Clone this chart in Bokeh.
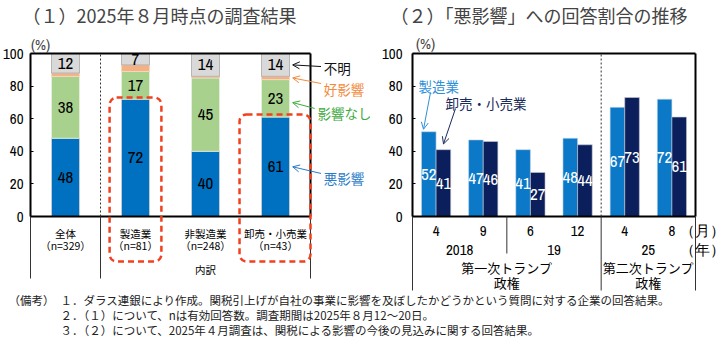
from bokeh.plotting import figure
from bokeh.models import (Range1d, FixedTicker, LinearAxis, Label, Arrow, OpenHead,
                          BoxAnnotation, ColumnDataSource)
from bokeh.layouts import column, row
from bokeh.embed import file_html
from bokeh.resources import INLINE
from bokeh.core.properties import value
from bokeh.transform import dodge

# ---------------- data ----------------
categories = ["全体", "製造業", "非製造業", "卸売・小売業"]
n_counts = [329, 81, 248, 43]
negative = [48, 72, 40, 61]     # 悪影響
no_effect = [38, 17, 45, 23]    # 影響なし
positive = [2, 4, 1, 2]         # 好影響
unknown = [12, 7, 14, 14]       # 不明

months = ["4", "9", "6", "12", "4", "8"]
years = ["2018", "19", "25"]
admins = ["第一次トランプ\n政権", "第二次トランプ\n政権"]
mfg = [52, 47, 41, 48, 67, 72]        # 製造業
wholesale = [41, 46, 27, 44, 73, 61]  # 卸売・小売業

# ---------------- styles ----------------
JP = "Noto Sans CJK JP"
NUM = "Archivo Narrow"
C_NEG = "#0070C0"
C_NONE = "#A9D18E"
C_POS = "#F4B183"
C_UNK = "#D9D9D9"
C_MFG = "#0B78C8"
C_WS = "#0A1F5C"
PXY = 1.63      # pixels per % unit
TOP_PX = 53     # frame top (y=100) in pixels
ZERO_PX = 216   # y=0 in pixels
H = 291
YMAX = 100 + TOP_PX / PXY
YMIN = -(H - ZERO_PX) / PXY


def base_fig(width, xmin, xmax, standoff):
    p = figure(width=width, height=H, x_range=Range1d(xmin, xmax), y_range=Range1d(YMIN, YMAX),
               output_backend="svg", toolbar_location=None, min_border=0,
               x_axis_location=None, y_axis_location=None)
    p.grid.visible = False
    p.outline_line_color = None
    p.background_fill_color = "white"
    yax = LinearAxis(ticker=FixedTicker(ticks=[0, 20, 40, 60, 80, 100]), fixed_location=0)
    yax.axis_line_color = None
    yax.major_tick_in = 3
    yax.major_tick_out = 0
    yax.major_tick_line_color = "black"
    yax.minor_tick_line_color = None
    yax.major_label_text_font = NUM
    yax.major_label_text_font_size = "15px"
    yax.major_label_text_color = "black"
    yax.major_label_standoff = standoff
    p.add_layout(yax, "left")
    return p


def x_axis(p, ticks, overrides, standoff, font, size, lh=1.0):
    ax = LinearAxis(ticker=FixedTicker(ticks=ticks), fixed_location=0)
    ax.axis_line_color = None
    ax.major_tick_line_color = None
    ax.minor_tick_line_color = None
    ax.major_label_overrides = overrides
    ax.major_label_standoff = standoff
    ax.major_label_text_font = font
    ax.major_label_text_font_size = size
    ax.major_label_text_color = "black"
    ax.major_label_text_line_height = lh
    p.add_layout(ax, "below")
    return ax


# ================= left panel =================
ncat = len(categories)
PX1 = 70.0
p1 = base_fig(370, -30 / PX1, 340 / PX1, 7)
ybot1 = -(278 - ZERO_PX) / PXY

xs = [i + 0.5 for i in range(ncat)]
src1 = ColumnDataSource(dict(x=xs, neg=negative, none=no_effect, pos=positive, unk=unknown))
p1.vbar_stack(["neg", "none", "pos", "unk"], x="x", width=0.4, source=src1,
              fill_color=[C_NEG, C_NONE, C_POS, C_UNK],
              line_color=["#D0D0D0", "#E8F0E0", "#F8D8C0", "#A8A8A8"], line_width=0.8)

lab_x, lab_y, lab_t = [], [], []
for i in range(ncat):
    lab_x += [xs[i]] * 3
    lab_y += [negative[i] / 2,
              negative[i] + no_effect[i] / 2,
              100 - unknown[i] / 2]
    lab_t += [str(negative[i]), str(no_effect[i]), str(unknown[i])]
p1.text(x=lab_x, y=lab_y, text=lab_t, text_align="center", text_baseline="middle",
        text_font=value(NUM), text_font_size="17px", text_color="black")

p1.segment(x0=[0, 0, ncat, 0], y0=[0, 100, 0, 0], x1=[0, ncat, ncat, ncat], y1=[100, 100, 100, 0],
           line_color="black", line_width=2)
p1.segment(x0=[0, 1, ncat], y0=[ybot1] * 3, x1=[0, 1, ncat], y1=[0, 0, 0],
           line_color="#333333", line_width=1)
p1.segment(x0=[1], y0=[0], x1=[1], y1=[100], line_color="#333333", line_width=1, line_dash="2 2")

x_axis(p1, xs, {xs[i]: f"{categories[i]}\n（n={n_counts[i]}）" for i in range(ncat)},
       3, JP, "10.5px", 0.84)
x_axis(p1, [2.5], {2.5: "内訳"}, 39, JP, "10.5px")

for l, r, t in [(1.13, 1.87, negative[1] + 1), (2.986, 4.0, negative[3] + 1.6)]:
    p1.add_layout(BoxAnnotation(left=l, right=r, top=t, bottom=-(261 - ZERO_PX) / PXY,
                                fill_alpha=0, line_color="#F0401E", line_alpha=1, line_width=2.5,
                                line_dash="6 4", border_radius=7))

ann = [("不明", "#111111", 4.19, 90.8, 92.0, 100 - unknown[3] / 2),
       ("好影響", "#F28A3C", 4.19, 78.5, 81.6, negative[3] + no_effect[3] + positive[3] / 2),
       ("影響なし", "#3DAA3D", 4.10, 63.8, 66.3, 69.9),
       ("悪影響", "#2A7BC8", 4.19, 23.9, 26.4, negative[3] / 2)]
for txt, col, lx, ly, ay0, ay1 in ann:
    p1.add_layout(Label(x=lx, y=ly, text=txt, text_color=col, text_font=JP,
                        text_font_size="13.5px", text_baseline="middle", text_align="left"))
    p1.add_layout(Arrow(x_start=lx - 0.04, y_start=ay0, x_end=3.745, y_end=ay1,
                        line_color=col, line_width=1,
                        end=OpenHead(size=7, line_color=col, line_width=1)))

p1.add_layout(Label(x=0, y=100, x_offset=10, y_offset=9, text="(%)", text_font=NUM,
                    text_font_size="15px", text_align="center", text_baseline="middle"))
p1.add_layout(Label(x=-8 / PX1, y=100, y_offset=39, text="（１）2025年８月時点の調査結果",
                    text_font=JP, text_font_size="18px", text_baseline="middle"))

# ================= right panel =================
nper = len(months)
ppx = 283 / nper
p2 = base_fig(354, -42 / ppx, 312 / ppx, 10)
ybot2 = -(290 - ZERO_PX) / PXY

xs2 = [i + 0.5 for i in range(nper)]
bw = 0.31
src2 = ColumnDataSource(dict(x=xs2, mfg=mfg, ws=wholesale,
                             mfg_h=[v / 2 for v in mfg], ws_h=[v / 2 for v in wholesale],
                             mfg_t=[str(v) for v in mfg], ws_t=[str(v) for v in wholesale]))
p2.vbar(x=dodge("x", -bw / 2, range=p2.x_range), top="mfg", width=bw, source=src2,
        fill_color=C_MFG, line_color="#C8D8E8", line_width=0.6)
p2.vbar(x=dodge("x", bw / 2, range=p2.x_range), top="ws", width=bw, source=src2,
        fill_color=C_WS, line_color="#C8C8D0", line_width=0.6)
p2.text(x=dodge("x", -bw / 2, range=p2.x_range), y="mfg_h", text="mfg_t", source=src2,
        text_align="center", text_baseline="middle", text_font=value(NUM),
        text_font_size="17px", text_color="white")
p2.text(x=dodge("x", bw / 2, range=p2.x_range), y="ws_h", text="ws_t", source=src2,
        text_align="center", text_baseline="middle", text_font=value(NUM),
        text_font_size="17px", text_color="white")

p2.segment(x0=[0, 0, nper, 0], y0=[0, 100, 0, 0], x1=[0, nper, nper, nper], y1=[100, 100, 100, 0],
           line_color="black", line_width=2)
p2.segment(x0=[0, 4, nper], y0=[ybot2] * 3, x1=[0, 4, nper], y1=[0, 0, 0],
           line_color="#333333", line_width=1)
p2.segment(x0=[2], y0=[-(253 - ZERO_PX) / PXY], x1=[2], y1=[0], line_color="#333333", line_width=1)
p2.segment(x0=[4], y0=[0], x1=[4], y1=[100], line_color="#333333", line_width=1, line_dash="2 2")

unit_x = 6.37
mo = {xs2[i]: months[i] for i in range(nper)}
mo[unit_x] = "（月）"
x_axis(p2, xs2 + [unit_x], mo, -3, NUM, "15px")
yr = {1: years[0], 3: years[1], 5: years[2], unit_x: "（年）"}
x_axis(p2, [1, 3, 5, unit_x], yr, 16, NUM, "15px")
x_axis(p2, [2, 5], {2: admins[0], 5: admins[1]}, 35, JP, "13px", 0.84)

p2.add_layout(Label(x=(418 - 412) / ppx, y=(ZERO_PX - 85) / PXY, text="製造業", text_color="#2E90D8",
                    text_font=JP, text_font_size="13.5px", text_baseline="middle"))
p2.add_layout(Label(x=(445 - 412) / ppx, y=(ZERO_PX - 102) / PXY, text="卸売・小売業", text_color="#1A2A5A",
                    text_font=JP, text_font_size="13.5px", text_baseline="middle"))
p2.add_layout(Arrow(x_start=(430 - 412) / ppx, y_start=(ZERO_PX - 92) / PXY,
                    x_end=(423 - 412) / ppx, y_end=mfg[0] + 1.5,
                    line_color="#2E90D8", line_width=1,
                    end=OpenHead(size=7, line_color="#2E90D8", line_width=1)))
p2.add_layout(Arrow(x_start=(455 - 412) / ppx, y_start=(ZERO_PX - 108) / PXY,
                    x_end=(443 - 412) / ppx, y_end=wholesale[0] + 3.5,
                    line_color="#1A2A5A", line_width=1,
                    end=OpenHead(size=7, line_color="#1A2A5A", line_width=1)))

p2.add_layout(Label(x=0, y=100, x_offset=13, y_offset=10, text="(%)", text_font=NUM,
                    text_font_size="15px", text_align="center", text_baseline="middle"))
p2.add_layout(Label(x=-22 / ppx, y=100, y_offset=39, text="（２）「悪影響」への回答割合の推移",
                    text_font=JP, text_font_size="18px", text_baseline="middle"))

# ================= footnotes =================
FH = 345 - H
p3 = figure(width=724, height=FH, x_range=Range1d(0, 724), y_range=Range1d(FH, 0),
            output_backend="svg", toolbar_location=None, min_border=0,
            x_axis_location=None, y_axis_location=None)
p3.grid.visible = False
p3.outline_line_color = None
notes = ["１．ダラス連銀により作成。関税引上げが自社の事業に影響を及ぼしたかどうかという質問に対する企業の回答結果。",
         "２．（１）について、nは有効回答数。調査期間は2025年８月12～20日。",
         "３．（２）について、2025年４月調査は、関税による影響の今後の見込みに関する回答結果。"]
y0 = 8.5
p3.add_layout(Label(x=8, y=y0, text="（備考）", text_font=JP, text_font_size="11.5px",
                    text_baseline="middle", text_color="#222222"))
for k, t in enumerate(notes):
    p3.add_layout(Label(x=60, y=y0 + 15 * k, text=t, text_font=JP, text_font_size="11.5px",
                        text_baseline="middle", text_color="#222222"))

layout = column(row(p1, p2), p3)
open("out.html", "w").write(file_html(layout, INLINE))
